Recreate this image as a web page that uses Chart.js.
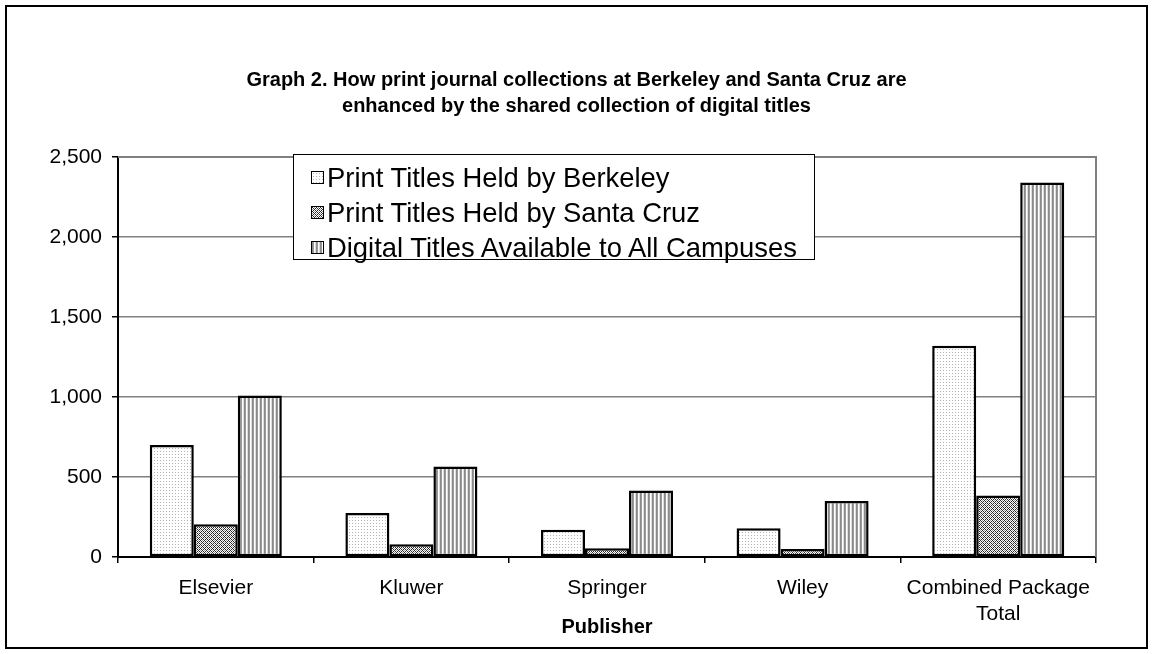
<!DOCTYPE html>
<html>
<head>
<meta charset="utf-8">
<script src="https://cdn.jsdelivr.net/npm/chart.js@4.4.1/dist/chart.umd.min.js"></script>
<style>
  html, body { margin: 0; padding: 0; background: #fff; }
  #wrap { position: relative; width: 1153px; height: 654px; overflow: hidden; }
  #c { position: absolute; left: 0; top: 0; }
  #frame { position: absolute; left: 5px; top: 5px; width: 1139px; height: 640px; border: 2px solid #000; pointer-events: none; }
  #legend { position: absolute; left: 293px; top: 154px; width: 522px; height: 106px; border: 1.5px solid #000; background: #fff;
            font-family: 'Liberation Sans', Arial, sans-serif; font-size: 27.4px; color: #000; padding-top: 5px; box-sizing: border-box; }
  .row { display: flex; align-items: center; height: 35px; padding-left: 17px; }
  .sw { width: 11px; height: 11px; border: 1.5px solid #000; margin-right: 3px; flex: none; }
</style>
</head>
<body>
<div id="wrap">
  <canvas id="c" width="1153" height="654"></canvas>
  <div id="frame"></div>
  <div id="legend"></div>
</div>
<script>
const titleLines = ['Graph 2. How print journal collections at Berkeley and Santa Cruz are', 'enhanced by the shared collection of digital titles'];
const categories = ['Elsevier', 'Kluwer', 'Springer', 'Wiley', ['Combined Package', 'Total']];
const seriesNames = ['Print Titles Held by Berkeley', 'Print Titles Held by Santa Cruz', 'Digital Titles Available to All Campuses'];
const berkeley = [700, 275, 170, 180, 1320];
const santaCruz = [205, 80, 55, 50, 385];
const digital = [1010, 565, 415, 350, 2340];
const yTicks = [0, 500, 1000, 1500, 2000, 2500];
const xAxisTitle = 'Publisher';

function makeTile(w, h, fn) {
  const c = document.createElement('canvas');
  c.width = w; c.height = h;
  const g = c.getContext('2d');
  for (let y = 0; y < h; y++) for (let x = 0; x < w; x++) {
    g.fillStyle = fn(x, y);
    g.fillRect(x, y, 1, 1);
  }
  return c;
}
const tileDots = makeTile(3, 3, (x, y) => (x === 1 && y === 1) ? '#b4b4b4' : '#ffffff');
const tileHatch = makeTile(4, 4, (x, y) => (((x + y) % 4 === 0) || ((x - y + 8) % 4 === 0)) ? '#2a2a2a' : (((x + y) % 2 === 0) ? '#9a9a9a' : '#ffffff'));
const tileStripes = makeTile(4, 1, (x) => ['#8a8a8a', '#9a9a9a', '#ffffff', '#dcdcdc'][x]);
const tiles = [tileDots, tileHatch, tileStripes];

const ctx = document.getElementById('c').getContext('2d');
const patterns = tiles.map(t => ctx.createPattern(t, 'repeat'));
const values = [berkeley, santaCruz, digital];

const FONT = "'Liberation Sans', Arial, sans-serif";

const plotFrame = {
  id: 'plotFrame',
  afterLayout(chart) {
    const t = chart.titleBlock;
    if (t) { t.left = 0; t.right = chart.width; t.width = chart.width; }
  },
  beforeDatasetsDraw(chart) {
    const a = chart.chartArea;
    const g = chart.ctx;
    g.save();
    g.strokeStyle = '#808080';
    g.lineWidth = 2;
    g.beginPath();
    g.moveTo(a.left, a.top);
    g.lineTo(a.right, a.top);
    g.lineTo(a.right, a.bottom);
    g.stroke();
    g.restore();
  }
};

new Chart(ctx, {
  type: 'bar',
  data: {
    labels: categories,
    datasets: seriesNames.map((name, i) => ({
      label: name,
      data: values[i],
      backgroundColor: patterns[i],
      borderColor: '#000',
      borderWidth: 2.5,
      borderSkipped: false,
      categoryPercentage: 0.675,
      barPercentage: 1.0
    }))
  },
  options: {
    responsive: false,
    animation: false,
    devicePixelRatio: 1,
    layout: { padding: { left: 10, right: 57, top: 10, bottom: 10 } },
    plugins: {
      legend: { display: false },
      tooltip: { enabled: false },
      title: {
        display: true,
        text: titleLines,
        color: '#000',
        font: { family: FONT, size: 20, weight: 'bold', lineHeight: 1.3 },
        padding: { top: 57, bottom: 38 }
      }
    },
    scales: {
      x: {
        afterFit: s => { s.height = 87; },
        grid: { offset: true, drawOnChartArea: false, drawTicks: true, tickLength: 6, tickColor: '#000', color: '#000', lineWidth: 1.5 },
        border: { color: '#000', width: 2 },
        ticks: { color: '#000', font: { family: FONT, size: 21, lineHeight: 1.24 }, padding: 12, maxRotation: 0, autoSkip: false },
        title: { display: true, text: xAxisTitle, color: '#000', font: { family: FONT, size: 20, weight: 'bold', lineHeight: 1.2 }, padding: { top: 0, bottom: 5 } }
      },
      y: {
        min: 0, max: 2500,
        afterFit: s => { s.width = 108; },
        afterBuildTicks: s => { s.ticks = yTicks.map(v => ({ value: v })); },
        grid: { color: '#808080', lineWidth: 1.5, tickLength: 6, tickColor: '#000' },
        border: { color: '#000', width: 2 },
        ticks: { color: '#000', font: { family: FONT, size: 21 }, padding: 10, callback: v => v.toLocaleString('en-US') }
      }
    }
  },
  plugins: [plotFrame]
});

const leg = document.getElementById('legend');
seriesNames.forEach((name, i) => {
  const row = document.createElement('div');
  row.className = 'row';
  const sw = document.createElement('div');
  sw.className = 'sw';
  sw.style.backgroundImage = 'url(' + tiles[i].toDataURL() + ')';
  const tx = document.createElement('span');
  tx.textContent = name;
  row.appendChild(sw);
  row.appendChild(tx);
  leg.appendChild(row);
});
</script>
</body>
</html>
